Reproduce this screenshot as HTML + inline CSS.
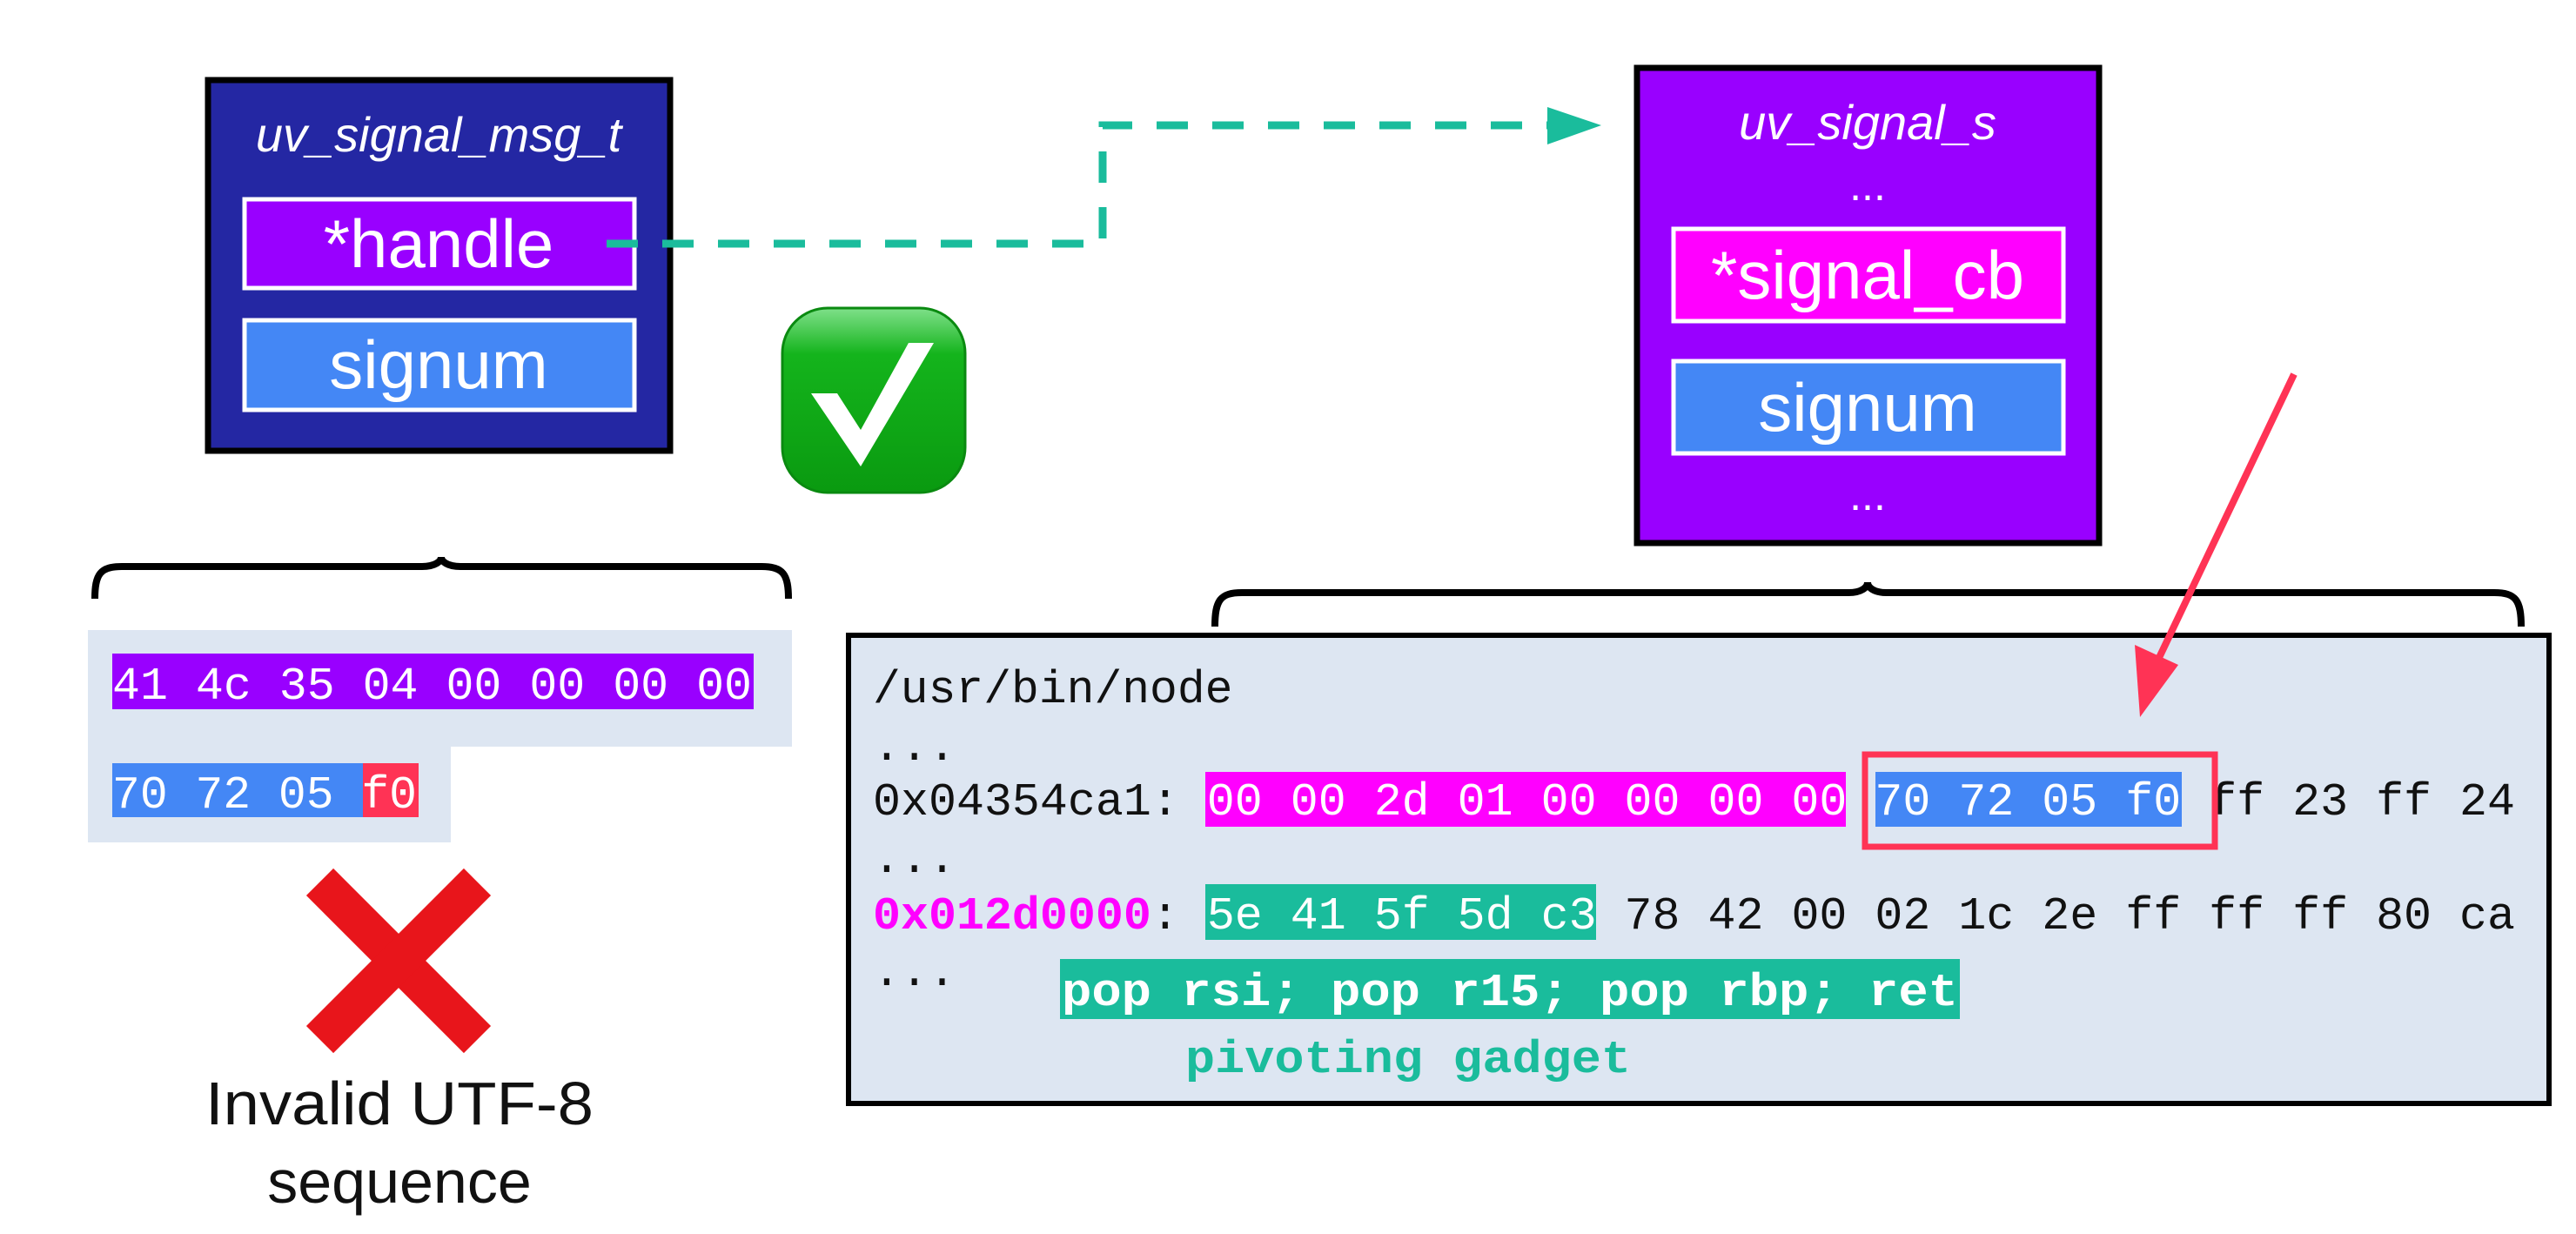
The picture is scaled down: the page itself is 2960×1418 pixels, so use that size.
<!DOCTYPE html>
<html><head><meta charset="utf-8"><style>
html,body{margin:0;padding:0;background:#fff;}
svg{display:block;}
.sans{font-family:"Liberation Sans","DejaVu Sans",sans-serif;}
.mono{font-family:"Liberation Mono","DejaVu Sans Mono",monospace;}
</style></head><body>
<svg width="2960" height="1418" viewBox="0 0 2960 1418" xmlns="http://www.w3.org/2000/svg">
<defs>
<linearGradient id="g" x1="0" y1="0" x2="0" y2="1">
<stop offset="0" stop-color="#7fe08a"/><stop offset="0.25" stop-color="#14b41c"/><stop offset="1" stop-color="#0a9a10"/>
</linearGradient>
</defs>
<rect x="239" y="92" width="531" height="426" fill="#2427a3" stroke="#000" stroke-width="7"/>
<text x="504" y="174" text-anchor="middle" class="sans" font-style="italic" font-size="56" fill="#fff">uv_signal_msg_t</text>
<rect x="281" y="229" width="448" height="102" fill="#9900ff" stroke="#fff" stroke-width="5"/>
<text x="504" y="307" text-anchor="middle" class="sans" font-size="78" fill="#fff">*handle</text>
<rect x="281" y="368" width="448" height="103" fill="#4487f5" stroke="#fff" stroke-width="5"/>
<text x="504" y="446" text-anchor="middle" class="sans" font-size="78" fill="#fff">signum</text>
<path d="M697 280 H1267 V144 H1778" fill="none" stroke="#1abc9c" stroke-width="9" stroke-dasharray="36 28"/>
<polygon points="1778,123 1840,144 1778,166" fill="#1abc9c"/>
<rect x="899" y="354" width="210" height="212" rx="52" fill="url(#g)" stroke="#0a8a10" stroke-width="3"/>
<polygon points="932,452 962,452 989,494 1044,394 1073,394 989,536" fill="#fff"/>
<rect x="1881" y="78" width="531" height="546" fill="#9900ff" stroke="#000" stroke-width="7"/>
<text x="2146" y="160" text-anchor="middle" class="sans" font-style="italic" font-size="56" fill="#fff">uv_signal_s</text>
<text x="2146" y="230" text-anchor="middle" class="sans" font-size="50" fill="#fff">...</text>
<rect x="1923" y="263" width="448" height="106" fill="#ff00ff" stroke="#fff" stroke-width="5"/>
<text x="2146" y="343" text-anchor="middle" class="sans" font-size="78" fill="#fff">*signal_cb</text>
<rect x="1923" y="415" width="448" height="106" fill="#4487f5" stroke="#fff" stroke-width="5"/>
<text x="2146" y="495" text-anchor="middle" class="sans" font-size="78" fill="#fff">signum</text>
<text x="2146" y="586" text-anchor="middle" class="sans" font-size="50" fill="#fff">...</text>
<path d="M109 688 C109 660 115 651 140 651 H485 C500 651 507 645 507 640 C507 645 514 651 529 651 H875 C900 651 906 660 906 688" fill="none" stroke="#000" stroke-width="8"/>
<path d="M1396 720 C1396 690 1402 681 1427 681 H2124 C2139 681 2146 675 2146 669 C2146 675 2153 681 2168 681 H2866 C2891 681 2897 690 2897 720" fill="none" stroke="#000" stroke-width="8"/>
<path d="M101 724 H910 V858 H518 V968 H101 Z" fill="#dde6f2"/>
<rect x="129" y="751" width="737" height="64" fill="#9900ff"/>
<text x="129" y="803" class="mono" font-size="53" fill="#fff" textLength="735" lengthAdjust="spacingAndGlyphs">41 4c 35 04 00 00 00 00</text>
<rect x="129" y="877" width="288" height="62" fill="#4487f5"/>
<rect x="417" y="877" width="64" height="62" fill="#ff3355"/>
<text x="129" y="928" class="mono" font-size="53" fill="#fff" textLength="350" lengthAdjust="spacingAndGlyphs">70 72 05 f0</text>
<g transform="translate(458,1104) rotate(45)">
<rect x="-128" y="-22" width="256" height="44" fill="#e8151b"/>
<rect x="-22" y="-128" width="44" height="256" fill="#e8151b"/>
</g>
<text x="459" y="1292" text-anchor="middle" class="sans" font-size="70" fill="#111" textLength="446" lengthAdjust="spacingAndGlyphs">Invalid UTF-8</text>
<text x="459" y="1382" text-anchor="middle" class="sans" font-size="70" fill="#111">sequence</text>
<rect x="975" y="730" width="1954" height="538" fill="#dde6f2" stroke="#000" stroke-width="6"/>
<g class="mono" font-size="53">
<text x="1003" y="807" fill="#111">/usr/bin/node</text>
<text x="1003" y="873" fill="#111">...</text>
<rect x="1385" y="887" width="736" height="63" fill="#ff00ff"/>
<rect x="2155" y="887" width="352" height="63" fill="#4487f5"/>
<text x="1003" y="936" fill="#111" textLength="1887" lengthAdjust="spacingAndGlyphs">0x04354ca1: <tspan fill="#fff">00 00 2d 01 00 00 00 00</tspan> <tspan fill="#fff">70 72 05 f0</tspan> ff 23 ff 24</text>
<text x="1003" y="1002" fill="#111">...</text>
<rect x="1385" y="1016" width="449" height="64" fill="#1abc9c"/>
<text x="1003" y="1067" fill="#111" textLength="1887" lengthAdjust="spacingAndGlyphs"><tspan fill="#ff00ff" font-weight="bold">0x012d0000</tspan>: <tspan fill="#fff">5e 41 5f 5d c3</tspan> 78 42 00 02 1c 2e ff ff ff 80 ca</text>
<text x="1003" y="1132" fill="#111">...</text>
<rect x="1218" y="1102" width="1034" height="69" fill="#1abc9c"/>
<text x="1220" y="1155" fill="#fff" font-weight="bold" textLength="1030" lengthAdjust="spacingAndGlyphs">pop rsi; pop r15; pop rbp; ret</text>
<text x="1362" y="1232" fill="#1abc9c" font-weight="bold" textLength="512" lengthAdjust="spacingAndGlyphs">pivoting gadget</text>
</g>
<rect x="2143" y="867" width="402" height="106" fill="none" stroke="#ff3355" stroke-width="7"/>
<line x1="2636" y1="430" x2="2478" y2="762" stroke="#ff3355" stroke-width="8"/>
<polygon points="2459,824 2453,741 2503,764" fill="#ff3355"/>
</svg>
</body></html>
